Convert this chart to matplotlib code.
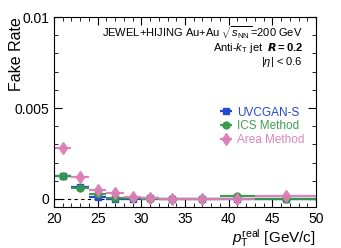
import matplotlib
matplotlib.use("Agg")
import matplotlib.pyplot as plt
from matplotlib.ticker import MultipleLocator, FixedLocator
import numpy as np

plt.rcParams["font.family"] = ["Liberation Sans", "DejaVu Sans"]
plt.rcParams["mathtext.fontset"] = "custom"
plt.rcParams["mathtext.rm"] = "Liberation Sans"
plt.rcParams["mathtext.it"] = "Liberation Sans:italic"
plt.rcParams["mathtext.bf"] = "Liberation Sans:bold"

# pT bins
bin_lo = np.array([20, 22, 24, 26, 28, 30, 32, 35, 39, 43])
bin_hi = np.array([22, 24, 26, 28, 30, 32, 35, 39, 43, 50])

uvcgan = [0.00127, 0.00065, 0.00013, 0.00001, 0.00002, 0.00004, 0.00001, 0.00002, 0.00001, 0.00000]
ics = [0.00128, 0.00062, 0.00027, 0.00005, 0.00004, 0.00001, 0.00001, 0.00000, 0.00018, 0.00000]
area = [0.00279, 0.00123, 0.00051, 0.00033, 0.00008, 0.00003, 0.00002, 0.00001, -0.00003, 0.00016]

centers = (bin_lo + bin_hi) / 2
xerr = (bin_hi - bin_lo) / 2

fig = plt.figure(figsize=(3.41, 2.48), dpi=100)
ax = fig.add_axes([0.158, 0.165, 0.769, 0.766])

ax.axhline(0, color="black", ls="--", lw=0.8, dashes=(3, 3))

ax.errorbar(centers, uvcgan, xerr=xerr, fmt="s", color="#2448d0", ms=4.5,
            elinewidth=1.6, capsize=0, label="UVCGAN-S")
ax.errorbar(centers, ics, xerr=xerr, fmt="o", color="#35994a", ms=5,
            elinewidth=1.6, capsize=0, label="ICS Method", alpha=0.95)
ax.errorbar(centers, area, xerr=xerr, fmt="d", color="#dc7fb4", ms=6,
            elinewidth=1.6, capsize=0, label="Area Method", alpha=0.95)

ax.set_xlim(20, 50)
ax.set_ylim(-0.00045, 0.01)
ax.xaxis.set_major_locator(MultipleLocator(5))
ax.xaxis.set_minor_locator(MultipleLocator(1))
ax.yaxis.set_major_locator(FixedLocator([0, 0.005, 0.01]))
ax.yaxis.set_minor_locator(MultipleLocator(0.001))
ax.set_yticklabels(["0", "0.005", "0.01"])
ax.tick_params(which="both", direction="in", top=True, right=True, labelsize=10)
ax.tick_params(which="major", length=6)
ax.tick_params(which="minor", length=3)

ax.set_ylabel("Fake Rate", fontsize=11.5, loc="top")
ax.yaxis.set_label_coords(-0.115, 1.0)
ax.set_xlabel(r"$p_{\mathrm{T}}^{\mathrm{real}}$ [GeV/c]", fontsize=11, loc="right", labelpad=1)

ax.text(0.95, 0.916, r"JEWEL+HIJING Au+Au $\sqrt{s_{\mathrm{NN}}}$=200 GeV",
        transform=ax.transAxes, ha="right", va="center", fontsize=8)
ax.text(0.95, 0.837, r"Anti-$k_{\mathrm{T}}$ jet  $\boldsymbol{R}$$\mathbf{=0.2}$",
        transform=ax.transAxes, ha="right", va="center", fontsize=8)
ax.text(0.95, 0.765, r"|$\eta$| < 0.6",
        transform=ax.transAxes, ha="right", va="center", fontsize=8)

leg = ax.legend(loc="center right", bbox_to_anchor=(0.995, 0.425), frameon=False,
                fontsize=8.5, handlelength=1.2, handletextpad=0.3, labelspacing=0.15)
for text, h in zip(leg.get_texts(), leg.legend_handles):
    text.set_color(h.get_color() if hasattr(h, "get_color") else "k")

fig.savefig("out.png", dpi=100)
